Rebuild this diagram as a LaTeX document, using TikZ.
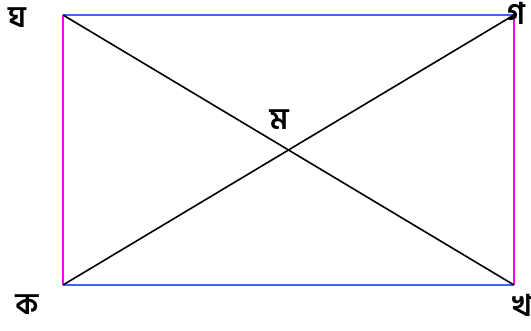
\documentclass[tikz,border=0pt]{standalone}
\usepackage{fontspec}
\newfontfamily\bnfont[Script=Bengali]{Hind Siliguri SemiBold}
\definecolor{sideblue}{RGB}{60,100,255}
\definecolor{sidemag}{RGB}{255,0,255}
\tikzset{
  lbl/.style={inner sep=0pt, font=\bnfont\fontsize{30}{34}\selectfont},
  hside/.style={draw=sideblue, line width=1.6pt},
  vside/.style={draw=sidemag, line width=1.6pt},
  diag/.style={draw=black, line width=1.6pt}
}
\begin{document}
\begin{tikzpicture}[x=1pt,y=1pt]
\useasboundingbox (0,0) rectangle (531,331);
\coordinate (K) at (63,46);
\coordinate (Kh) at (514,46);
\coordinate (G) at (514,316);
\coordinate (Gh) at (63,316);
\draw[hside] (Gh) -- (G);
\draw[hside] (K) -- (Kh);
\draw[vside] (Gh) -- (K);
\draw[vside] (G) -- (Kh);
\draw[diag] (Gh) -- (Kh);
\draw[diag] (K) -- (G);
\node[lbl] (lGh) at (17,313) {ঘ};
\node[lbl] (lG) at (516,318) {গ};
\node[lbl] (lK) at (27,26) {ক};
\node[lbl] (lKh) at (522,26) {খ};
\node[lbl] (lM) at (279,211) {ম};
\end{tikzpicture}
\end{document}
